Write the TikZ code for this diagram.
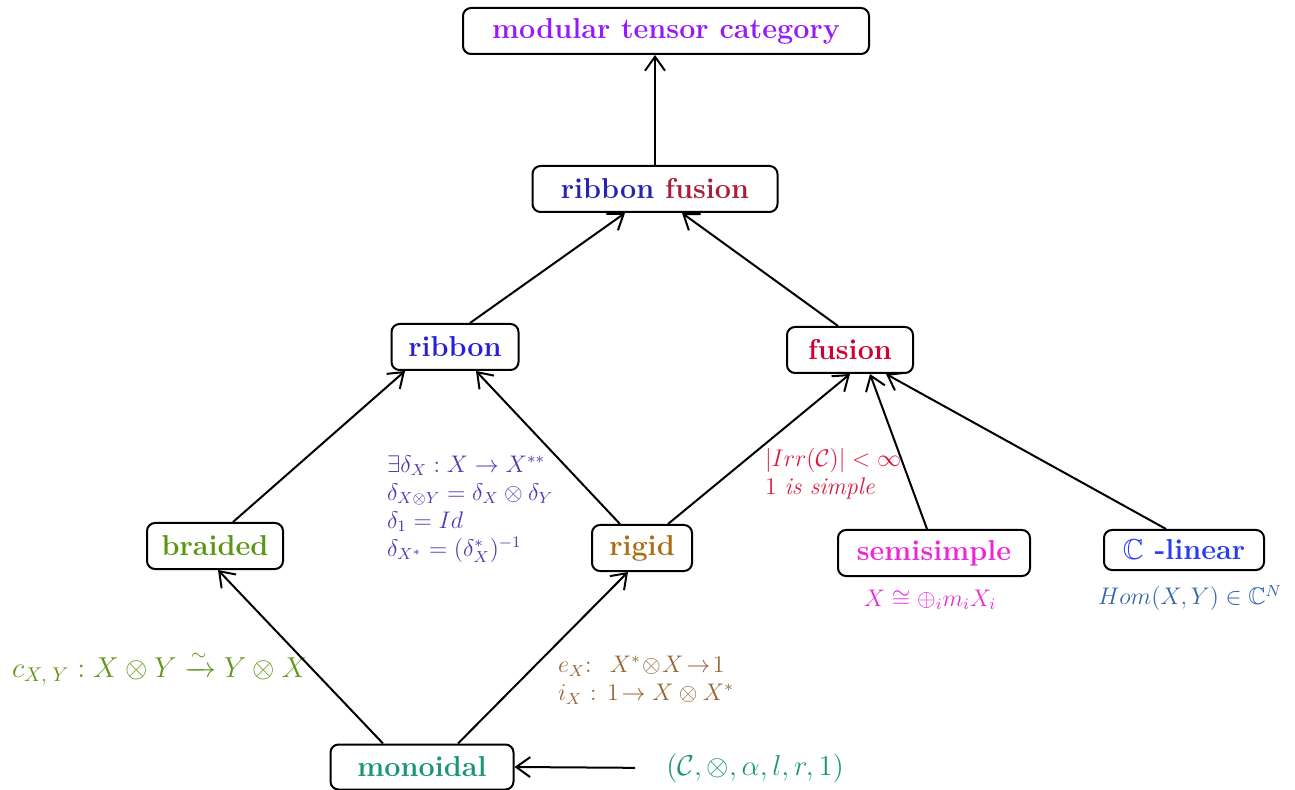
\documentclass[tikz,border=0pt]{standalone}
\usepackage{tikz}
\usetikzlibrary{arrows.meta,positioning,calc}
\usepackage{xcolor}
\usepackage{amsmath,amssymb}
\definecolor{MTCViolet}{RGB}{150,25,250}
\definecolor{RibBlue}{RGB}{40,35,175}
\definecolor{FusRed}{RGB}{170,30,60}
\definecolor{RibbonBlue}{RGB}{40,30,215}
\definecolor{FusionRed}{RGB}{210,0,50}
\definecolor{BraidGreen}{RGB}{90,150,20}
\definecolor{RigidBrown}{RGB}{170,110,20}
\definecolor{SemiMagenta}{RGB}{235,40,215}
\definecolor{LinBlue}{RGB}{40,60,240}
\definecolor{MonoTeal}{RGB}{25,150,120}
\definecolor{DeltaBlue}{RGB}{75,60,175}
\definecolor{IrrRed}{RGB}{220,25,60}
\definecolor{HomBlue}{RGB}{50,100,170}
\definecolor{CGreen}{RGB}{100,150,30}
\definecolor{EBrown}{RGB}{150,100,50}

\begin{document}
\begin{tikzpicture}[x=0.5pt,y=-0.5pt,
  box/.style={draw,line width=1pt,rounded corners=4pt,fill=white,
              minimum height=23pt,inner xsep=6pt,font=\Large\bfseries},
  lab/.style={font=\large,align=left},
  arr/.style={-{Straight Barb[length=7pt,width=10pt]},line width=1pt},
]
\useasboundingbox (0,0) rectangle (1295,790);
% category nodes
\node[box,minimum width=203pt,text=MTCViolet] (mtc) at (666,31) {modular tensor category};
\node[box,minimum width=122.5pt] (rf) at (655,189) {\textcolor{RibBlue}{ribbon} \textcolor{FusRed}{fusion}};
\node[box,minimum width=63.5pt,text=RibbonBlue] (ribbon) at (455,347) {ribbon};
\node[box,minimum width=63pt,text=FusionRed] (fusion) at (850,350) {fusion};
\node[box,minimum width=68pt,text=BraidGreen] (braided) at (215,546) {braided};
\node[box,minimum width=50pt,text=RigidBrown] (rigid) at (642,548) {rigid};
\node[box,minimum width=96pt,text=SemiMagenta] (semi) at (934,553) {semisimple};
\node[box,minimum width=80pt,minimum height=20pt,text=LinBlue] (lin) at (1184,550) {$\mathbb{C}$ -linear};
\node[box,minimum width=91.5pt,minimum height=22.5pt,text=MonoTeal] (mono) at (422,767) {monoidal};
% labels
\node[lab,anchor=west,text=DeltaBlue] (dlab) at (380,509)
  {$\exists\delta_X : X \to X^{**}$\\
   $\delta_{X\otimes Y} = \delta_X \otimes \delta_Y$\\
   $\delta_1 = Id$\\
   $\delta_{X^*} = (\delta^*_X)^{-1}$};
\node[lab,anchor=west,text=IrrRed] (irr) at (758,474)
  {$|Irr(\mathcal{C})| < \infty$\\ $1$ \textit{is simple}};
\node[lab,text=SemiMagenta] (slab) at (930,600) {$X \cong \oplus_i m_i X_i$};
\node[lab,text=HomBlue] (hlab) at (1190,598) {$Hom(X,Y) \in \mathbb{C}^N$};
\node[lab,font=\Large,anchor=west,text=CGreen] (clab) at (5,668)
  {$c_{X,\;Y} : X\otimes Y \xrightarrow{\sim} Y\otimes X$};
\node[lab,anchor=west,text=EBrown] (elab) at (551,680)
  {$e_X$:~ $X^*\!\otimes\! X\!\to\! 1$\\ $i_X$ : $1\!\to X\otimes X^*$};
\node[lab,font=\Large,text=MonoTeal] (tuple) at (755,768) {$(\mathcal{C},\otimes,\alpha,l,r,1)$};
% arrows
\draw[arr] (rf.north) -- (rf.north |- mtc.south);
\draw[arr] ([xshift=7.5pt]ribbon.north) -- ([xshift=-15pt]rf.south);
\draw[arr] ([xshift=-6pt]fusion.north) -- ([xshift=13.5pt]rf.south);
\draw[arr] ([xshift=9pt]braided.north) -- ([xshift=-25pt]ribbon.south);
\draw[arr] ([xshift=-11pt]rigid.north) -- ([xshift=10.5pt]ribbon.south);
\draw[arr] ([xshift=13pt]rigid.north) -- (fusion.south);
\draw[arr] ([xshift=-3.5pt]semi.north) -- ([xshift=10pt]fusion.south);
\draw[arr] ([xshift=-9pt]lin.north) -- ([xshift=18pt]fusion.south);
\draw[arr] ([xshift=-19.5pt]mono.north) -- ([xshift=1.5pt]braided.south);
\draw[arr] ([xshift=18pt]mono.north) -- ([xshift=-7pt]rigid.south);
\draw[arr,shorten <=12pt] (tuple.west) -- (mono.east);
\end{tikzpicture}
\end{document}
